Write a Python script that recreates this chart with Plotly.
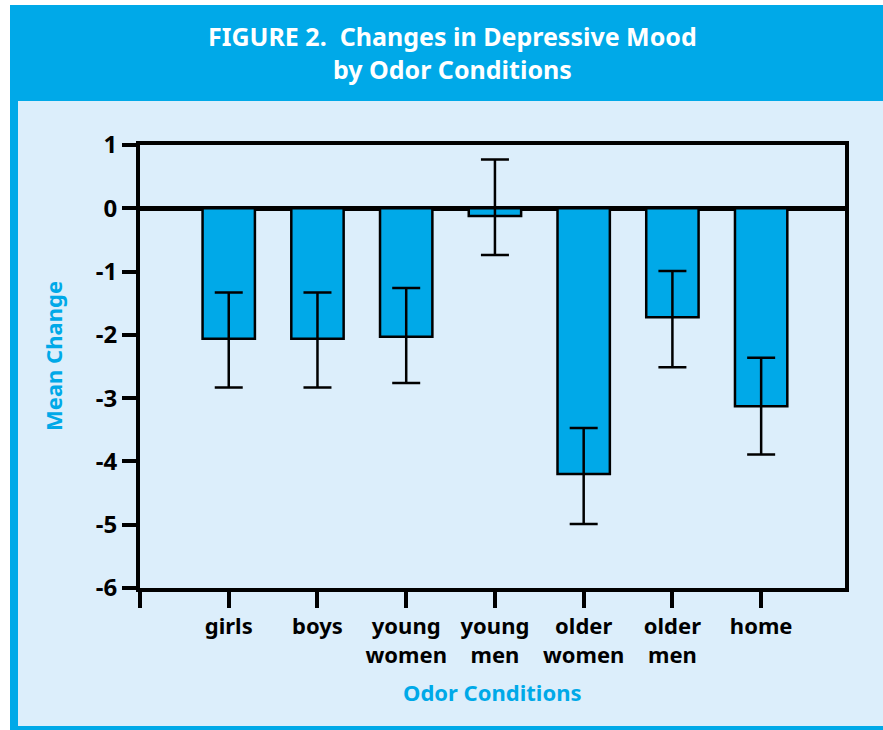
import plotly.graph_objects as go

# Odor conditions and mean change in depressive mood
conditions = ["girls", "boys", "young<br>women", "young<br>men",
              "older<br>women", "older<br>men", "home"]
mean_change = [-2.06, -2.06, -2.03, -0.12, -4.20, -1.72, -3.13]
err_upper = [0.73, 0.73, 0.77, 0.89, 0.73, 0.73, 0.77]
err_lower = [0.77, 0.77, 0.73, 0.62, 0.79, 0.79, 0.76]

y_ticks = [1, 0, -1, -2, -3, -4, -5, -6]
y_tick_text = ["1", "0", "-1", "-2", "-3", "-4", "-5", "-6"]

W, H = 883, 730
ML, MR, MT, MB = 140, 38, 145, 142
PW, PH = W - ML - MR, H - MT - MB

BLUE = "#00A9E8"
PANEL = "#DCEEFB"
FONT = "Noto Sans, Open Sans, DejaVu Sans, sans-serif"
TITLE_FONT = "Noto Sans, Open Sans, sans-serif"


def px_x(x):
    return (x - ML) / PW


def px_y(y):
    return (H - MB - y) / PH


x_pos = list(range(1, len(conditions) + 1))

fig = go.Figure()
fig.add_trace(go.Bar(
    x=x_pos,
    y=mean_change,
    width=0.59,
    marker=dict(color=BLUE, line=dict(color="black", width=2.5)),
    error_y=dict(type="data", symmetric=False, array=err_upper,
                 arrayminus=err_lower, color="black", thickness=2.5, width=14),
    hoverinfo="skip",
))

shapes = [
    # header band
    dict(type="rect", xref="paper", yref="paper", layer="below",
         x0=px_x(10), x1=px_x(W), y0=px_y(101), y1=px_y(5),
         fillcolor=BLUE, line=dict(width=0)),
    # light panel
    dict(type="rect", xref="paper", yref="paper", layer="below",
         x0=px_x(10), x1=px_x(W), y0=px_y(H), y1=px_y(101),
         fillcolor=PANEL, line=dict(width=0)),
    # left border stripe
    dict(type="rect", xref="paper", yref="paper", layer="below",
         x0=px_x(10), x1=px_x(18), y0=px_y(H), y1=px_y(101),
         fillcolor=BLUE, line=dict(width=0)),
    # bottom border stripe
    dict(type="rect", xref="paper", yref="paper", layer="below",
         x0=px_x(10), x1=px_x(W), y0=px_y(H), y1=px_y(726),
         fillcolor=BLUE, line=dict(width=0)),
]

annotations = [
    dict(text="<b>FIGURE 2.  Changes in Depressive Mood<br>by Odor Conditions</b>",
         xref="paper", yref="paper", x=px_x(452), y=px_y(53),
         xanchor="center", yanchor="middle", showarrow=False,
         font=dict(family=TITLE_FONT, size=25, color="white")),
    dict(text="<b>Mean Change</b>", textangle=-90,
         xref="paper", yref="paper", x=px_x(53), y=px_y(356),
         xanchor="center", yanchor="middle", showarrow=False,
         font=dict(family=FONT, size=22, color=BLUE)),
    dict(text="<b>Odor Conditions</b>",
         xref="paper", yref="paper", x=px_x(492), y=px_y(692),
         xanchor="center", yanchor="middle", showarrow=False,
         font=dict(family=FONT, size=22, color=BLUE)),
]

fig.update_layout(
    width=W, height=H,
    margin=dict(l=ML, r=MR, t=MT, b=MB, pad=0),
    paper_bgcolor="white",
    plot_bgcolor="rgba(0,0,0,0)",
    showlegend=False,
    shapes=shapes,
    annotations=annotations,
    xaxis=dict(
        range=[0, 7.945],
        tickvals=[0] + x_pos,
        ticktext=[""] + conditions,
        ticks="outside", ticklen=16, tickwidth=4, tickcolor="black",
        showline=True, linewidth=4, linecolor="black", mirror=True,
        showgrid=False, zeroline=False,
        tickfont=dict(family=FONT, size=22, color="black", weight="bold"),
        fixedrange=True,
    ),
    yaxis=dict(
        range=[-6, 1],
        tickvals=y_ticks,
        ticktext=y_tick_text,
        ticks="outside", ticklen=14, tickwidth=4, tickcolor="black",
        showline=True, linewidth=4, linecolor="black", mirror=True,
        showgrid=False,
        zeroline=True, zerolinewidth=5, zerolinecolor="black",
        tickfont=dict(family=FONT, size=24, color="black", weight="bold"),
        fixedrange=True,
    ),
)

fig.write_html("out.html", config=dict(displayModeBar=False))
